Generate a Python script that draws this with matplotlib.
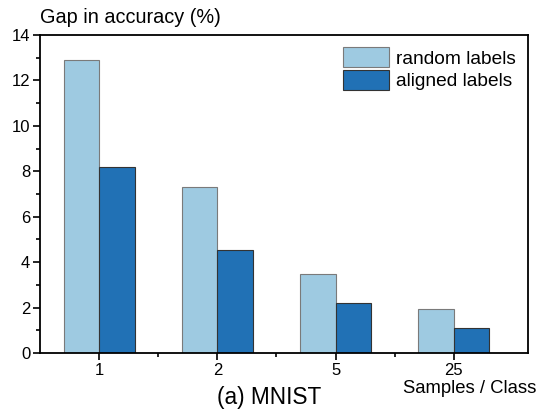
import numpy as np
import matplotlib
matplotlib.use("Agg")
import matplotlib.pyplot as plt
from matplotlib.ticker import MultipleLocator, FixedLocator

# Data
categories = ['1', '2', '5', '25']
random_labels = [12.9, 7.3, 3.5, 1.95]
aligned_labels = [8.2, 4.55, 2.2, 1.1]

plt.rcParams['font.family'] = ['Liberation Sans', 'DejaVu Sans']

fig = plt.figure(figsize=(5.39, 4.11), dpi=100)
ax = fig.add_axes([0.0742, 0.141, 0.906, 0.774])

x = np.arange(len(categories))
width = 0.3
ax.bar(x - width / 2, random_labels, width, color='#9ecae1', edgecolor='#7a7a7a',
       linewidth=0.8, label='random labels')
ax.bar(x + width / 2, aligned_labels, width, color='#2171b5', edgecolor='#333333',
       linewidth=0.8, label='aligned labels')

ax.set_xlim(-0.5, 3.63)
ax.set_ylim(0, 14)
ax.set_xticks(x)
ax.set_xticklabels(categories)
ax.xaxis.set_minor_locator(FixedLocator(x[:-1] + 0.5))
ax.yaxis.set_major_locator(MultipleLocator(2))
ax.yaxis.set_minor_locator(MultipleLocator(1))
ax.tick_params(axis='both', which='major', direction='out', length=5, width=1.2,
               labelsize=12, pad=2)
ax.tick_params(axis='both', which='minor', direction='out', length=3, width=1.2)
for s in ax.spines.values():
    s.set_linewidth(1.3)

fig.text(0.0742, 0.935, 'Gap in accuracy (%)', fontsize=14.3, ha='left', va='bottom')
fig.text(0.996, 0.035, 'Samples / Class', fontsize=13.3, ha='right', va='bottom')
fig.text(0.5, 0.005, '(a) MNIST', fontsize=16.3, ha='center', va='bottom')

leg = ax.legend(loc='upper right', frameon=False, fontsize=13.8, handlelength=2.4,
                handleheight=1.2, labelspacing=0.12, handletextpad=0.35,
                borderaxespad=0.25)

fig.savefig('out.png', dpi=100)
